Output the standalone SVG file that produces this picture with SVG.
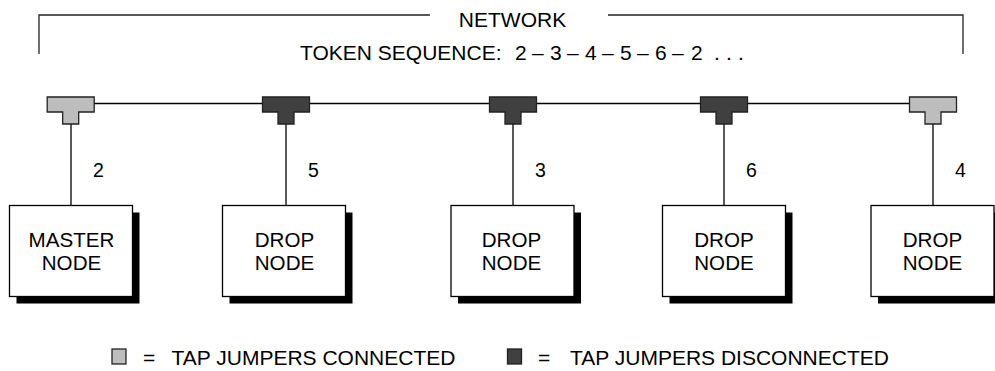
<svg xmlns="http://www.w3.org/2000/svg" width="995" height="371" viewBox="0 0 995 371">
<style>
text{font-family:"Liberation Sans",Arial,Helvetica,sans-serif;fill:#000}
.t{font-size:21px}
.lg{font-size:21px}
.lbl{font-size:20.6px;text-anchor:middle}
.num{font-size:19.5px}
.box{fill:#fff;stroke:#000;stroke-width:1.3}
.sh{fill:#000}
.ln{stroke:#000;stroke-width:1.3;fill:none}
.br{stroke:#222;stroke-width:1.3;fill:none}
.tapL{fill:#bdbdbd;stroke:#222;stroke-width:1.3}
.tapD{fill:#404040;stroke:#222;stroke-width:1.3}
</style>
<defs>
<path id="tap" d="M-23.5,-6.5 H23.5 V8.5 H8 V20.5 H-8 V8.5 H-23.5 Z"/>
</defs>
<g id="bracket">
<path class="br" d="M39,54 V15 H430"/>
<path class="br" d="M608,15 H963 V54"/>
<text class="t" x="512.5" y="26.5" text-anchor="middle">NETWORK</text>
<text class="t" y="59.5"><tspan x="300">TOKEN SEQUENCE:</tspan><tspan x="515">2</tspan><tspan x="532">–</tspan><tspan x="550">3</tspan><tspan x="567">–</tspan><tspan x="585">4</tspan><tspan x="602">–</tspan><tspan x="620">5</tspan><tspan x="637">–</tspan><tspan x="655">6</tspan><tspan x="672">–</tspan><tspan x="691">2</tspan><tspan x="714">.</tspan><tspan x="726">.</tspan><tspan x="738">.</tspan></text>
</g>
<g id="connectors">
<line class="ln" x1="94" y1="103.5" x2="909" y2="103.5"/>
<line class="ln" x1="71" y1="124" x2="71" y2="205.5"/>
<line class="ln" x1="286" y1="124" x2="286" y2="205.5"/>
<line class="ln" x1="513" y1="124" x2="513" y2="205.5"/>
<line class="ln" x1="724" y1="124" x2="724" y2="205.5"/>
<line class="ln" x1="933" y1="124" x2="933" y2="205.5"/>
</g>
<g id="tap1"><use href="#tap" class="tapL" x="70.7" y="103.5"/></g>
<g id="tap2"><use href="#tap" class="tapD" x="286" y="103.5"/></g>
<g id="tap3"><use href="#tap" class="tapD" x="513" y="103.5"/></g>
<g id="tap4"><use href="#tap" class="tapD" x="724" y="103.5"/></g>
<g id="tap5"><use href="#tap" class="tapL" x="933" y="103.5"/></g>
<g id="labels">
<text class="num" x="93" y="176.5">2</text>
<text class="num" x="308" y="176.5">5</text>
<text class="num" x="535" y="176.5">3</text>
<text class="num" x="746" y="176.5">6</text>
<text class="num" x="955" y="176.5">4</text>
</g>
<g id="master">
<rect class="sh" x="16.5" y="212.5" width="123" height="91"/>
<rect class="box" x="9.5" y="205.5" width="123" height="91"/>
<text class="lbl" x="71.5" y="246.5">MASTER</text>
<text class="lbl" x="71.5" y="270">NODE</text>
</g>
<g id="drop1">
<rect class="sh" x="229.5" y="212.5" width="123" height="91"/>
<rect class="box" x="222.5" y="205.5" width="123" height="91"/>
<text class="lbl" x="284.5" y="246.5">DROP</text>
<text class="lbl" x="284.5" y="270">NODE</text>
</g>
<g id="drop2">
<rect class="sh" x="458" y="212.5" width="123" height="91"/>
<rect class="box" x="451" y="205.5" width="123" height="91"/>
<text class="lbl" x="511.5" y="246.5">DROP</text>
<text class="lbl" x="511.5" y="270">NODE</text>
</g>
<g id="drop3">
<rect class="sh" x="669.5" y="212.5" width="123" height="91"/>
<rect class="box" x="662.5" y="205.5" width="123" height="91"/>
<text class="lbl" x="724" y="246.5">DROP</text>
<text class="lbl" x="724" y="270">NODE</text>
</g>
<g id="drop4">
<rect class="sh" x="878" y="212.5" width="123" height="91"/>
<rect class="box" x="871" y="205.5" width="123" height="91"/>
<text class="lbl" x="932.5" y="246.5">DROP</text>
<text class="lbl" x="932.5" y="270">NODE</text>
</g>
<g id="legend">
<rect class="tapL" x="112" y="349" width="14" height="15"/>
<text class="lg" x="143" y="365">=</text>
<text class="lg" x="171.5" y="365">TAP JUMPERS CONNECTED</text>
<rect class="tapD" x="507.5" y="349" width="14" height="15"/>
<text class="lg" x="538" y="365">=</text>
<text class="lg" x="570" y="365">TAP JUMPERS DISCONNECTED</text>
</g>
</svg>
